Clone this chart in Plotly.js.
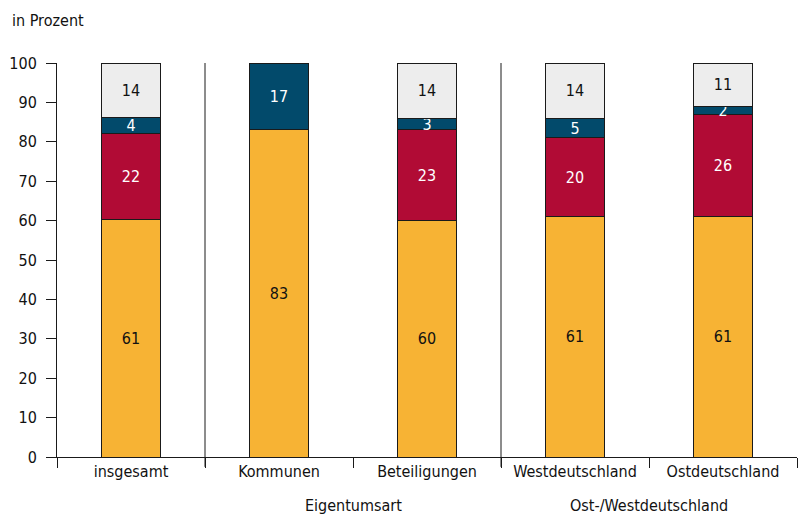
<!DOCTYPE html>
<html>
<head>
<meta charset="utf-8">
<script src="https://cdn.plot.ly/plotly-3.0.1.min.js"></script>
<style>html,body{margin:0;padding:0;background:#fff;}#chart{width:808px;height:514px;}</style>
</head>
<body>
<div id="chart"></div>
<script>
const categories = ['insgesamt', 'Kommunen', 'Beteiligungen', 'Westdeutschland', 'Ostdeutschland'];
const seriesYellow = [61, 83, 60, 61, 61];
const seriesRed    = [22, null, 23, 20, 26];
const seriesBlue   = [4, 17, 3, 5, 2];
const seriesGrey   = [14, null, 14, 14, 11];
const groupLabels  = ['Eigentumsart', 'Ost-/Westdeutschland'];
const yTicks = [0, 10, 20, 30, 40, 50, 60, 70, 80, 90, 100];

const FONT = '"DejaVu Sans Condensed", "Liberation Sans Narrow", "DejaVu Sans", sans-serif';

function mk(vals, color, textColor) {
  return {
    type: 'bar',
    x: categories,
    y: vals,
    text: vals.map(v => v == null ? '' : String(v)),
    texttemplate: '%{text}',
    textposition: 'inside',
    insidetextanchor: 'middle',
    textangle: 0,
    constraintext: 'none',
    insidetextfont: {family: FONT, size: 16, color: textColor},
    marker: {color: color, line: {color: '#1a1a1a', width: 1}},
    width: 0.405,
    hoverinfo: 'x+text',
    showlegend: false
  };
}

const data = [
  mk(seriesYellow, '#F7B334', '#111111'),
  mk(seriesRed, '#B10B35', '#ffffff'),
  mk(seriesBlue, '#024A6B', '#ffffff'),
  mk(seriesGrey, '#EDEDED', '#111111')
];

const layout = {
  width: 808, height: 514,
  margin: {l: 57, r: 11, t: 63, b: 57},
  barmode: 'stack',
  barnorm: 'percent',
  paper_bgcolor: '#fff', plot_bgcolor: '#fff',
  font: {family: FONT, size: 16, color: '#111111'},
  xaxis: {
    type: 'category',
    range: [-0.5, 4.5],
    showline: true, linecolor: '#1a1a1a', linewidth: 1,
    ticks: 'outside', tickson: 'boundaries', ticklen: 10, tickcolor: '#1a1a1a', tickwidth: 1,
    showgrid: false, zeroline: false,
    tickfont: {family: FONT, size: 16, color: '#111111'},
    fixedrange: true
  },
  yaxis: {
    range: [0, 100],
    tickvals: yTicks,
    ticktext: yTicks.map(String),
    showline: true, linecolor: '#1a1a1a', linewidth: 1,
    ticks: 'outside', ticklen: 10, tickcolor: '#1a1a1a', tickwidth: 1,
    ticklabelstandoff: 6,
    showgrid: false, zeroline: false,
    tickfont: {family: FONT, size: 16, color: '#111111'},
    fixedrange: true
  },
  shapes: [
    {type: 'line', xref: 'x', yref: 'paper', x0: 0.5, x1: 0.5, y0: -0.025, y1: 1, line: {color: '#1a1a1a', width: 1}},
    {type: 'line', xref: 'x', yref: 'paper', x0: 2.5, x1: 2.5, y0: -0.025, y1: 1, line: {color: '#1a1a1a', width: 1}}
  ],
  annotations: [
    {xref: 'x', yref: 'paper', x: 1.5, y: -0.122, text: groupLabels[0], showarrow: false, xanchor: 'center', yanchor: 'middle', font: {family: FONT, size: 16, color: '#111111'}},
    {xref: 'x', yref: 'paper', x: 3.5, y: -0.122, text: groupLabels[1], showarrow: false, xanchor: 'center', yanchor: 'middle', font: {family: FONT, size: 16, color: '#111111'}},
    {xref: 'paper', yref: 'paper', x: -0.063, y: 1.109, text: 'in Prozent', showarrow: false, xanchor: 'left', yanchor: 'middle', font: {family: FONT, size: 16, color: '#111111'}}
  ]
};

Plotly.newPlot('chart', data, layout, {displayModeBar: false, staticPlot: true});
</script>
</body>
</html>
